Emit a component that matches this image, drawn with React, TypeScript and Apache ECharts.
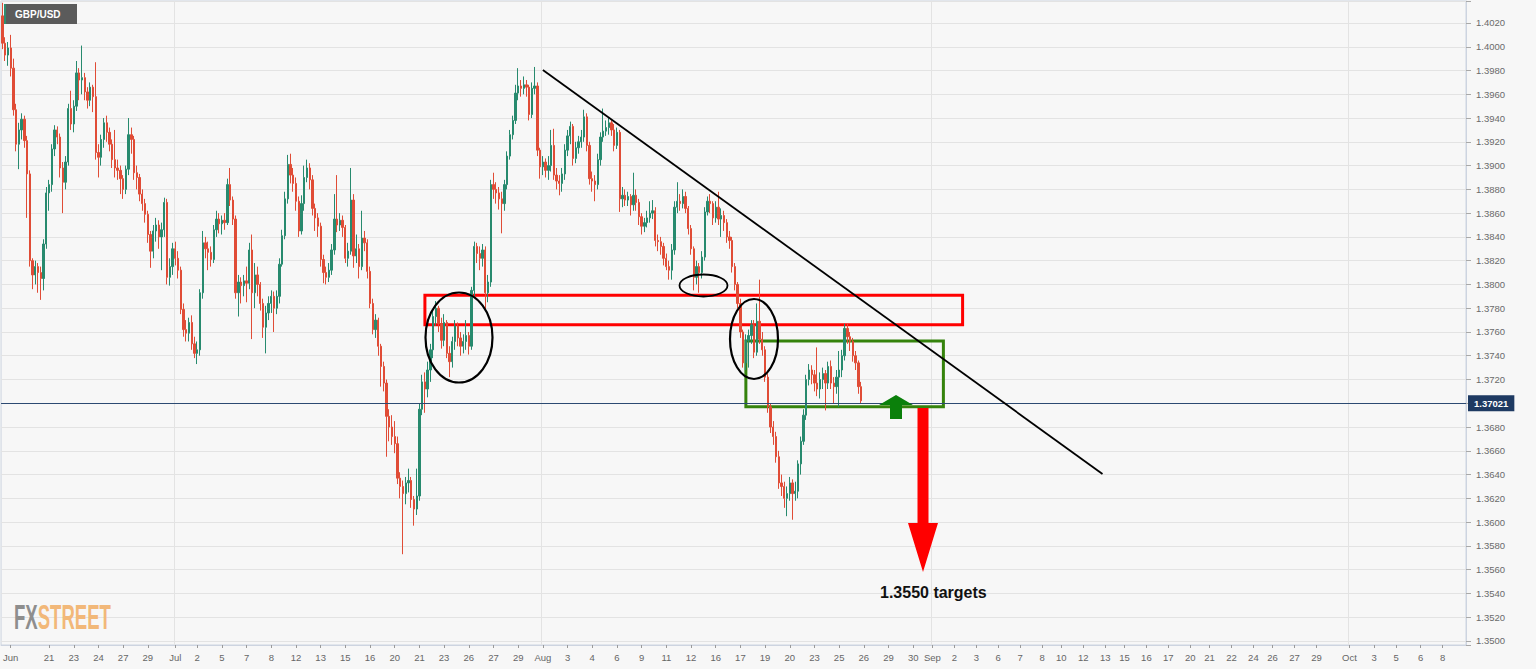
import React, { useEffect, useRef } from 'react';
import * as echarts from 'echarts';

// ---------- DATA ----------
const firstOpen = 1.4026;
const closes = [
  1.4003, 1.3993, 1.3999, 1.3982, 1.3947, 1.3918, 1.3930, 1.3939, 1.3921, 1.3893,
  1.3820, 1.3808, 1.3815, 1.3810, 1.3805, 1.3834, 1.3877, 1.3884, 1.3914, 1.3930,
  1.3924, 1.3898, 1.3886, 1.3903, 1.3948, 1.3935, 1.3950, 1.3978, 1.3972, 1.3974,
  1.3962, 1.3955, 1.3966, 1.3958, 1.3911, 1.3907, 1.3922, 1.3936, 1.3928, 1.3918,
  1.3905, 1.3898, 1.3896, 1.3889, 1.3880, 1.3897, 1.3926, 1.3922, 1.3894, 1.3890,
  1.3876, 1.3868, 1.3859, 1.3842, 1.3828, 1.3845, 1.3850, 1.3840, 1.3846, 1.3869,
  1.3806, 1.3815, 1.3830, 1.3822, 1.3812, 1.3779, 1.3762, 1.3759, 1.3768, 1.3750,
  1.3742, 1.3745, 1.3793, 1.3835, 1.3830, 1.3827, 1.3821, 1.3846, 1.3855, 1.3851,
  1.3854, 1.3852, 1.3884, 1.3871, 1.3855, 1.3793, 1.3802, 1.3799, 1.3803, 1.3801,
  1.3829, 1.3793, 1.3808, 1.3800, 1.3784, 1.3764, 1.3776, 1.3784, 1.3790, 1.3780,
  1.3790, 1.3817, 1.3841, 1.3872, 1.3901, 1.3892, 1.3885, 1.3870, 1.3845, 1.3868,
  1.3890, 1.3898, 1.3888, 1.3864, 1.3856, 1.3849, 1.3821, 1.3810, 1.3806, 1.3812,
  1.3829, 1.3855, 1.3850, 1.3854, 1.3848, 1.3822, 1.3828, 1.3871, 1.3824, 1.3830,
  1.3815, 1.3839, 1.3835, 1.3811, 1.3784, 1.3762, 1.3770, 1.3748, 1.3731, 1.3717,
  1.3689, 1.3680, 1.3672, 1.3666, 1.3637, 1.3630, 1.3624, 1.3633, 1.3635, 1.3619,
  1.3611, 1.3622, 1.3695, 1.3718, 1.3712, 1.3728, 1.3745, 1.3773, 1.3780, 1.3767,
  1.3753, 1.3768, 1.3742, 1.3735, 1.3752, 1.3765, 1.3755, 1.3748, 1.3752, 1.3757,
  1.3748, 1.3795, 1.3832, 1.3826, 1.3822, 1.3829, 1.3793, 1.3802, 1.3884, 1.3880,
  1.3877, 1.3872, 1.3868, 1.3884, 1.3908, 1.3926, 1.3938, 1.3961, 1.3967, 1.3965,
  1.3968, 1.3966, 1.3943, 1.3965, 1.3967, 1.3913, 1.3899, 1.3903, 1.3896, 1.3900,
  1.3917, 1.3892, 1.3887, 1.3885, 1.3893, 1.3913, 1.3925, 1.3933, 1.3906, 1.3915,
  1.3920, 1.3924, 1.3941, 1.3917, 1.3889, 1.3887, 1.3884, 1.3905, 1.3924, 1.3929,
  1.3932, 1.3936, 1.3930, 1.3917, 1.3928, 1.3872, 1.3875, 1.3871, 1.3874, 1.3867,
  1.3875, 1.3869, 1.3857, 1.3849, 1.3852, 1.3856, 1.3860, 1.3862, 1.3837, 1.3836,
  1.3832, 1.3822, 1.3815, 1.3812, 1.3829, 1.3865, 1.3870, 1.3868, 1.3874, 1.3864,
  1.3847, 1.3830, 1.3806, 1.3815, 1.3810, 1.3823, 1.3861, 1.3870, 1.3868, 1.3856,
  1.3865, 1.3855, 1.3858, 1.3852, 1.3840, 1.3837, 1.3815, 1.3800, 1.3784, 1.3760,
  1.3734, 1.3753, 1.3757, 1.3766, 1.3743, 1.3769, 1.3754, 1.3745, 1.3722, 1.3697,
  1.3680, 1.3672, 1.3655, 1.3633, 1.3630, 1.3620, 1.3624, 1.3633, 1.3624, 1.3626,
  1.3649, 1.3668, 1.3690, 1.3720, 1.3728, 1.3724, 1.3717, 1.3712, 1.3720, 1.3725,
  1.3717, 1.3731, 1.3717, 1.3714, 1.3722, 1.3728, 1.3740, 1.3763, 1.3756, 1.3752,
  1.3740, 1.3734, 1.3714, 1.37021,
];
const highs = [
  1.4037, 1.4008, 1.4004, 1.4010, 1.3990, 1.3952, 1.3936, 1.3944, 1.3942, 1.3925,
  1.3896, 1.3822, 1.3820, 1.3818, 1.3815, 1.3838, 1.3882, 1.3888, 1.3918, 1.3934,
  1.3933, 1.3927, 1.3903, 1.3908, 1.3952, 1.3963, 1.3955, 1.3988, 1.3982, 1.4001,
  1.3978, 1.3966, 1.3970, 1.3968, 1.3987, 1.3918, 1.3926, 1.3940, 1.3942, 1.3932,
  1.3922, 1.3930, 1.3905, 1.3900, 1.3892, 1.3900, 1.3940, 1.3932, 1.3925, 1.3900,
  1.3893, 1.3880, 1.3872, 1.3862, 1.3845, 1.3850, 1.3856, 1.3854, 1.3852, 1.3873,
  1.3872, 1.3822, 1.3835, 1.3836, 1.3828, 1.3815, 1.3784, 1.3770, 1.3772, 1.3774,
  1.3756, 1.3752, 1.3796, 1.3845, 1.3840, 1.3836, 1.3832, 1.3850, 1.3862, 1.3860,
  1.3858, 1.3860, 1.3889, 1.3898, 1.3874, 1.3858, 1.3808, 1.3806, 1.3808, 1.3815,
  1.3835, 1.3842, 1.3818, 1.3815, 1.3802, 1.3788, 1.3782, 1.3790, 1.3795, 1.3794,
  1.3795, 1.3822, 1.3846, 1.3878, 1.3909, 1.3910, 1.3898, 1.3890, 1.3874, 1.3875,
  1.3900, 1.3905, 1.3902, 1.3892, 1.3868, 1.3860, 1.3852, 1.3825, 1.3815, 1.3818,
  1.3834, 1.3876, 1.3892, 1.3860, 1.3858, 1.3850, 1.3835, 1.3898, 1.3876, 1.3842,
  1.3834, 1.3862, 1.3845, 1.3838, 1.3815, 1.3788, 1.3775, 1.3772, 1.3750, 1.3735,
  1.3720, 1.3695, 1.3690, 1.3685, 1.3672, 1.3642, 1.3635, 1.3638, 1.3645, 1.3638,
  1.3622, 1.3645, 1.3700, 1.3724, 1.3726, 1.3735, 1.3750, 1.3778, 1.3786, 1.3782,
  1.3772, 1.3775, 1.3770, 1.3748, 1.3756, 1.3770, 1.3768, 1.3760, 1.3758, 1.3770,
  1.3760, 1.3798, 1.3836, 1.3835, 1.3832, 1.3834, 1.3832, 1.3808, 1.3888, 1.3894,
  1.3886, 1.3882, 1.3878, 1.3888, 1.3912, 1.3930, 1.3942, 1.3968, 1.3982, 1.3972,
  1.3975, 1.3972, 1.3968, 1.3970, 1.3983, 1.3970, 1.3915, 1.3908, 1.3906, 1.3908,
  1.3930, 1.3931, 1.3898, 1.3892, 1.3898, 1.3918, 1.3930, 1.3937, 1.3935, 1.3920,
  1.3925, 1.3930, 1.3947, 1.3944, 1.3920, 1.3895, 1.3892, 1.3910, 1.3928, 1.3948,
  1.3938, 1.3940, 1.3938, 1.3935, 1.3932, 1.3930, 1.3882, 1.3880, 1.3878, 1.3876,
  1.3894, 1.3880, 1.3872, 1.3860, 1.3856, 1.3862, 1.3870, 1.3871, 1.3865, 1.3842,
  1.3840, 1.3835, 1.3826, 1.3820, 1.3834, 1.3870, 1.3886, 1.3876, 1.3880, 1.3878,
  1.3866, 1.3850, 1.3832, 1.3820, 1.3818, 1.3828, 1.3865, 1.3874, 1.3876, 1.3870,
  1.3870, 1.3878, 1.3864, 1.3862, 1.3855, 1.3845, 1.3840, 1.3818, 1.3802, 1.3788,
  1.3762, 1.3758, 1.3762, 1.3770, 1.3770, 1.3784, 1.3804, 1.3760, 1.3748, 1.3725,
  1.3700, 1.3685, 1.3676, 1.3660, 1.3640, 1.3634, 1.3630, 1.3638, 1.3636, 1.3634,
  1.3652, 1.3672, 1.3695, 1.3724, 1.3733, 1.3732, 1.3728, 1.3747, 1.3726, 1.3730,
  1.3728, 1.3735, 1.3736, 1.3722, 1.3728, 1.3744, 1.3745, 1.3767, 1.3767, 1.3760,
  1.3755, 1.3744, 1.3736, 1.3718,
];
const lows = [
  1.3998, 1.3988, 1.3984, 1.3975, 1.3942, 1.3912, 1.3897, 1.3922, 1.3915, 1.3856,
  1.3815, 1.3796, 1.3800, 1.3793, 1.3787, 1.3795, 1.3830, 1.3862, 1.3878, 1.3908,
  1.3918, 1.3890, 1.3860, 1.3880, 1.3900, 1.3930, 1.3928, 1.3946, 1.3955, 1.3960,
  1.3955, 1.3948, 1.3950, 1.3945, 1.3905, 1.3890, 1.3900, 1.3915, 1.3920, 1.3912,
  1.3898, 1.3890, 1.3888, 1.3876, 1.3872, 1.3876, 1.3892, 1.3910, 1.3888, 1.3880,
  1.3870, 1.3862, 1.3852, 1.3835, 1.3814, 1.3822, 1.3836, 1.3830, 1.3812, 1.3840,
  1.3800, 1.3799, 1.3808, 1.3816, 1.3805, 1.3775, 1.3756, 1.3752, 1.3752, 1.3745,
  1.3738, 1.3733, 1.3740, 1.3788, 1.3822, 1.3812, 1.3815, 1.3818, 1.3840, 1.3843,
  1.3842, 1.3846, 1.3850, 1.3866, 1.3850, 1.3788, 1.3773, 1.3784, 1.3790, 1.3785,
  1.3796, 1.3754, 1.3780, 1.3790, 1.3778, 1.3755, 1.3742, 1.3770, 1.3776, 1.3760,
  1.3775, 1.3784, 1.3815, 1.3838, 1.3868, 1.3885, 1.3878, 1.3862, 1.3840, 1.3842,
  1.3862, 1.3886, 1.3880, 1.3858, 1.3845, 1.3840, 1.3815, 1.3801, 1.3800, 1.3802,
  1.3808, 1.3825, 1.3844, 1.3845, 1.3840, 1.3818, 1.3815, 1.3825, 1.3814, 1.3818,
  1.3805, 1.3812, 1.3828, 1.3805, 1.3780, 1.3758, 1.3755, 1.3740, 1.3714, 1.3710,
  1.3655, 1.3668, 1.3665, 1.3658, 1.3632, 1.3620, 1.3573, 1.3615, 1.3625, 1.3612,
  1.3597, 1.3606, 1.3618, 1.3690, 1.3692, 1.3705, 1.3718, 1.3738, 1.3765, 1.3760,
  1.3746, 1.3748, 1.3738, 1.3722, 1.3730, 1.3745, 1.3748, 1.3740, 1.3742, 1.3745,
  1.3741, 1.3745, 1.3790, 1.3818, 1.3812, 1.3815, 1.3779, 1.3785, 1.3798, 1.3872,
  1.3868, 1.3863, 1.3843, 1.3862, 1.3880, 1.3905, 1.3922, 1.3935, 1.3955, 1.3958,
  1.3960, 1.3958, 1.3938, 1.3940, 1.3960, 1.3908, 1.3889, 1.3892, 1.3890, 1.3888,
  1.3895, 1.3888, 1.3880, 1.3875, 1.3878, 1.3888, 1.3908, 1.3918, 1.3900, 1.3902,
  1.3910, 1.3915, 1.3920, 1.3912, 1.3884, 1.3878, 1.3870, 1.3880, 1.3900, 1.3920,
  1.3925, 1.3926, 1.3925, 1.3912, 1.3914, 1.3861, 1.3865, 1.3866, 1.3866, 1.3858,
  1.3862, 1.3862, 1.3850, 1.3842, 1.3844, 1.3848, 1.3852, 1.3855, 1.3832, 1.3828,
  1.3825, 1.3816, 1.3812, 1.3804, 1.3804, 1.3825, 1.3860, 1.3862, 1.3864, 1.3860,
  1.3842, 1.3825, 1.3795, 1.3800, 1.3793, 1.3805, 1.3820, 1.3858, 1.3860, 1.3850,
  1.3852, 1.3850, 1.3840, 1.3845, 1.3835, 1.3830, 1.3810, 1.3795, 1.3780, 1.3755,
  1.3730, 1.3728, 1.3730, 1.3750, 1.3738, 1.3740, 1.3750, 1.3740, 1.3718, 1.3692,
  1.3675, 1.3665, 1.3650, 1.3628, 1.3622, 1.3612, 1.3605, 1.3618, 1.3602, 1.3618,
  1.3620, 1.3640, 1.3665, 1.3686, 1.3715, 1.3716, 1.3710, 1.3706, 1.3704, 1.3712,
  1.3694, 1.3712, 1.3712, 1.3700, 1.3708, 1.3697, 1.3722, 1.3736, 1.3750, 1.3744,
  1.3735, 1.3728, 1.3708, 1.3700,
];

const slotCount = 534; // 4h bar slots incl. projected future space
const xLabels = [
  'Jun', '21', '23', '24', '27', '29', 'Jul', '2', '5', '7', '8', '12', '13', '15', '16', '20', '21', '23', '26', '27', '29',
  'Aug', '3', '4', '6', '9', '11', '12', '16', '17', '19', '20', '23', '25', '26', '29', '30',
  'Sep', '2', '3', '6', '7', '8', '10', '12', '13', '15', '16', '17', '20', '21', '22', '24', '26', '27', '29',
  'Oct', '3', '5', '6', '8',
];
const xLabelSlots = [
  3, 17, 26, 35, 44, 53, 63, 71, 80, 89, 98, 107, 116, 125, 134, 143, 152, 161, 170, 179, 188,
  197, 206, 215, 224, 233, 242, 251, 260, 269, 278, 287, 296, 305, 314, 323, 332,
  339, 347, 355, 363, 371, 379, 386, 394, 402, 409, 417, 425, 433, 440, 448, 456, 463, 471, 479,
  491, 500, 508, 517, 525,
];
const monthSlots = [63, 197, 339, 491];
const lastPrice = 1.37021;
const yMin = 1.34966;
const yMax = 1.40385;
const yStep = 0.002;

// annotation zones (slot index, price)
const resistanceZone = { from: 154, to: 350, top: 1.3791, bottom: 1.3766 };
const rangeZone = { from: 271, to: 343, top: 1.37524, bottom: 1.3697 };
const trendLine = [[197, 1.39805], [401, 1.36405]];
const targetText = '1.3550 targets';

const FONT = 'Arial, "Liberation Sans", sans-serif';

export default function App() {
  const ref = useRef<HTMLDivElement>(null);

  useEffect(() => {
    if (!ref.current) return;
    const chart = echarts.init(ref.current, null, { renderer: 'svg' });

    const categories = Array.from({ length: slotCount }, (_, i) => 'b' + i);
    const labelMap = new Map<number, string>();
    xLabelSlots.forEach((s, k) => labelMap.set(s, xLabels[k]));
    const monthSet = new Set(monthSlots);

    const candles = closes.map((c, i) => {
      const o = i === 0 ? firstOpen : closes[i - 1];
      return [o, c, Math.min(lows[i], o, c), Math.max(highs[i], o, c)];
    });

    const yLabel = (v: number) => {
      const onStep = Math.abs(v / yStep - Math.round(v / yStep)) < 1e-4;
      if (!onStep) return '';
      if (Math.abs(v - lastPrice) < yStep / 2) return ''; // hidden behind the price tag
      return v.toFixed(4);
    };

    const option: any = {
      animation: false,
      backgroundColor: '#f7f7f7',
      grid: {
        left: 1, right: 70, top: 1, bottom: 24,
        show: true, borderColor: '#cdd4e0', borderWidth: 1, backgroundColor: 'transparent',
      },
      xAxis: {
        type: 'category',
        data: categories,
        boundaryGap: true,
        axisLine: { show: true, lineStyle: { color: '#cdd4e0' } },
        axisTick: {
          show: true, alignWithLabel: true, length: 3,
          interval: (i: number) => labelMap.has(i),
          lineStyle: { color: '#9a9a9a' },
        },
        axisLabel: {
          interval: (i: number) => labelMap.has(i),
          formatter: (_v: string, i: number) => labelMap.get(i) ?? '',
          color: '#666', fontSize: 9.5, margin: 7, fontFamily: FONT,
        },
        splitLine: {
          show: true,
          interval: (i: number) => monthSet.has(i),
          lineStyle: { color: '#e3e3e3', width: 1 },
        },
      },
      yAxis: {
        type: 'value',
        position: 'right',
        min: yMin,
        max: yMax,
        splitNumber: 27,
        minInterval: yStep,
        maxInterval: yStep,
        axisLine: { show: true, lineStyle: { color: '#cdd4e0' } },
        axisTick: { show: true, length: 5, lineStyle: { color: '#a8a8a8' } },
        axisLabel: { formatter: yLabel, color: '#6a6a6a', fontSize: 9.5, margin: 10, fontFamily: FONT },
        splitLine: { show: true, lineStyle: { color: '#e3e3e3', width: 1 } },
      },
      series: [
        {
          type: 'candlestick',
          data: candles,
          barWidth: 1.8,
          itemStyle: {
            color: '#278a6e', color0: '#e04c36',
            borderColor: '#278a6e', borderColor0: '#e04c36', borderWidth: 1,
          },
          markArea: {
            silent: true,
            data: [
              [
                { coord: [resistanceZone.from, resistanceZone.top], itemStyle: { color: 'rgba(0,0,0,0)', borderColor: '#ff0000', borderWidth: 3 } },
                { coord: [resistanceZone.to, resistanceZone.bottom] },
              ],
              [
                { coord: [rangeZone.from, rangeZone.top], itemStyle: { color: 'rgba(0,0,0,0)', borderColor: '#35830c', borderWidth: 3 } },
                { coord: [rangeZone.to, rangeZone.bottom] },
              ],
            ],
          },
          markLine: {
            silent: true,
            symbol: ['none', 'none'],
            data: [
              {
                yAxis: lastPrice,
                lineStyle: { color: '#2c4a72', width: 1, type: 'solid' },
                label: {
                  show: true, position: 'end', distance: 2,
                  formatter: lastPrice.toFixed(5),
                  color: '#fff', backgroundColor: '#1e3a62',
                  padding: [3, 6, 3, 6], fontSize: 9.5, fontWeight: 'bold', fontFamily: FONT,
                },
              },
              [
                { coord: trendLine[0], lineStyle: { color: '#000', width: 1.8, type: 'solid' }, label: { show: false } },
                { coord: trendLine[1] },
              ],
            ],
          },
        },
      ],
      graphic: [
        { type: 'rect', z: 100, shape: { x: 4, y: 4, width: 73, height: 20 }, style: { fill: '#5b5b5b' } },
        { type: 'rect', z: 101, shape: { x: 4, y: 4, width: 2, height: 20 }, style: { fill: '#2e8d70' } },
        {
          type: 'text', z: 101, x: 15, y: 14.5,
          style: { text: 'GBP/USD', fill: '#ffffff', fontSize: 10, fontWeight: 'bold', fontFamily: FONT, verticalAlign: 'middle', align: 'left' },
        },
        {
          type: 'text', z: 100, x: 14, y: 617, scaleX: 0.53,
          style: {
            text: '{a|FX}{b|STREET}', fontSize: 35, fontWeight: 'bold', fontFamily: FONT,
            verticalAlign: 'middle', align: 'left',
            rich: {
              a: { fill: '#8e8e8e', fontSize: 35, fontWeight: 'bold', fontFamily: FONT },
              b: { fill: '#f2b879', fontSize: 35, fontWeight: 'bold', fontFamily: FONT },
            },
          },
        },
        { type: 'ellipse', z: 100, shape: { cx: 459, cy: 337.5, rx: 33.5, ry: 45 }, style: { fill: 'none', stroke: '#000', lineWidth: 2.2 } },
        { type: 'ellipse', z: 100, shape: { cx: 703.5, cy: 285.5, rx: 24, ry: 11 }, style: { fill: 'none', stroke: '#000', lineWidth: 1.8 } },
        { type: 'ellipse', z: 100, shape: { cx: 754, cy: 339, rx: 24, ry: 40 }, style: { fill: 'none', stroke: '#000', lineWidth: 2.2 } },
        {
          type: 'polygon', z: 100,
          shape: { points: [[890, 419], [890, 405], [879, 405], [896, 395], [913, 405], [902, 405], [902, 419]] },
          style: { fill: '#0b800b' },
        },
        {
          type: 'polygon', z: 100,
          shape: { points: [[917.5, 408], [928.5, 408], [928.5, 523], [938, 523], [923, 572], [908, 523], [917.5, 523]] },
          style: { fill: '#ff0000' },
        },
        {
          type: 'text', z: 100, x: 880, y: 592,
          style: { text: targetText, fill: '#111', fontSize: 16, fontWeight: 'bold', fontFamily: FONT, verticalAlign: 'middle', align: 'left' },
        },
      ],
    };

    chart.setOption(option);
    return () => chart.dispose();
  }, []);

  return (
    <div
      ref={ref}
      style={{ position: 'fixed', left: 0, top: 0, width: 1536, height: 669, background: '#f7f7f7' }}
    />
  );
}
